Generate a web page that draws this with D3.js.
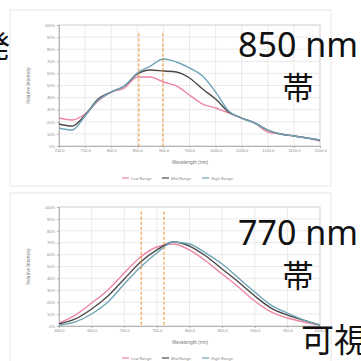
<!DOCTYPE html>
<html>
<head>
<meta charset="utf-8">
<script src="https://cdn.jsdelivr.net/npm/d3@7"></script>
<style>
  body { margin: 0; background: #fff; }
  svg { display: block; font-family: "Noto Sans", "Noto Sans CJK JP", sans-serif; }
  .tick text { fill: #8a8a8a; }
</style>
</head>
<body>
<div id="chart"></div>
<script>
// --- data (percent) ---
var seriesNames = ["Low Range", "Mid Range", "High Range"];
var seriesColors = ["#ec86a4", "#4f4747", "#6fa6b8"];

// 850 nm chart
var topWavelengths = [700,725,750,775,800,825,850,875,900,925,950,975,1000,1025,1050,1075,1100,1125,1150,1175,1200];
var topLow  = [23.1,21.5,26.4,37.2,44.6,47.9,57.0,57.0,52.9,49.6,42.1,34.7,31.4,27.3,23.1,19.0,11.6,9.9,8.3,6.6,4.1];
var topMid  = [18.2,16.5,25.6,38.8,44.6,49.6,59.5,62.8,62.0,61.2,56.2,47.1,38.8,28.1,23.1,19.0,13.2,9.9,8.3,6.6,5.0];
var topHigh = [14.9,13.2,24.8,38.0,44.6,49.6,60.3,66.1,71.9,69.4,64.5,57.9,44.6,28.9,23.1,19.0,13.2,9.9,8.3,6.6,5.0];
var topXTicks = [700,750,800,850,900,950,1000,1050,1100,1150,1200];
var topMarkers = [853, 899];

// 770 nm chart
var botWavelengths = [600,625,650,675,700,725,750,775,800,825,850,875,900,925,950,975,1000];
var botLow  = [2.5,9.2,19.3,30.3,44.5,58.0,66.4,68.9,63.9,54.6,43.7,32.8,21.0,11.8,6.7,3.4,0.8];
var botMid  = [1.7,5.9,14.3,25.2,39.5,53.8,63.9,70.6,67.2,58.8,47.9,37.0,25.2,15.1,9.2,5.0,0.8];
var botHigh = [0.8,3.4,10.1,20.2,35.3,49.6,61.3,70.6,68.9,61.3,52.1,40.3,28.6,17.6,10.9,5.0,0.8];
var botXTicks = [600,650,700,750,800,850,900,950,1000];
var botMarkers = [726, 761];

var yTicks = [0,10,20,30,40,50,60,70,80,90,100];

var svg = d3.select("#chart").append("svg")
  .attr("width", 361)
  .attr("height", 361);

// picture frames behind the two charts
svg.append("rect").attr("x", 10).attr("y", 10).attr("width", 321).attr("height", 176)
  .attr("fill", "#fff").attr("stroke", "#e6e6e6");
svg.append("rect").attr("x", 10).attr("y", 193).attr("width", 321).attr("height", 180)
  .attr("fill", "#fff").attr("stroke", "#e6e6e6");

function drawChart(cfg){
  var x = d3.scaleLinear().domain(cfg.xDomain).range([59, 320]);
  var y = d3.scaleLinear().domain([0, 100]).range([cfg.bottom, cfg.top]);
  var g = svg.append("g");

  // grid
  g.selectAll(".hgrid").data(yTicks).enter().append("line")
    .attr("x1", 59).attr("x2", 320)
    .attr("y1", function(d){ return y(d); }).attr("y2", function(d){ return y(d); })
    .attr("stroke", "#e4e4e4").attr("stroke-width", 0.8);
  g.selectAll(".vgrid").data(cfg.xTicks).enter().append("line")
    .attr("x1", function(d){ return x(d); }).attr("x2", function(d){ return x(d); })
    .attr("y1", cfg.top).attr("y2", cfg.bottom)
    .attr("stroke", "#e4e4e4").attr("stroke-width", 0.8);
  g.append("rect").attr("x", 59).attr("y", cfg.top)
    .attr("width", 261).attr("height", cfg.bottom - cfg.top)
    .attr("fill", "none").attr("stroke", "#d2d2d2").attr("stroke-width", 0.8);

  // axes
  var yAxis = g.append("g").attr("transform", "translate(59,0)")
    .call(d3.axisLeft(y).tickValues(yTicks).tickSize(2).tickFormat(function(d){ return d + "%"; }));
  var xAxis = g.append("g").attr("transform", "translate(0," + cfg.bottom + ")")
    .call(d3.axisBottom(x).tickValues(cfg.xTicks).tickSize(2).tickFormat(function(d){ return d + ".0"; }));
  [yAxis, xAxis].forEach(function(a){
    a.selectAll("path, line").attr("stroke", "#a8a8a8").attr("stroke-width", 0.8);
    a.selectAll("text").style("font-size", "4px");
  });
  yAxis.selectAll("text").attr("x", -4);
  xAxis.selectAll("text").attr("y", 3);

  // axis titles
  g.append("text")
    .attr("transform", "translate(30," + ((cfg.top + cfg.bottom) / 2) + ") rotate(-90)")
    .attr("text-anchor", "middle")
    .style("font-size", "4.5px").style("fill", "#777")
    .text("Relative Intensity");
  g.append("text")
    .attr("x", 190).attr("y", cfg.bottom + 18)
    .attr("text-anchor", "middle")
    .style("font-size", "4.5px").style("fill", "#777")
    .text("Wavelength (nm)");

  // series lines
  var line = d3.line()
    .x(function(d){ return x(d[0]); })
    .y(function(d){ return y(d[1]); })
    .curve(d3.curveMonotoneX);
  cfg.series.forEach(function(vals, i){
    g.append("path")
      .datum(cfg.wavelengths.map(function(w, j){ return [w, vals[j]]; }))
      .attr("fill", "none")
      .attr("stroke", seriesColors[i])
      .attr("stroke-width", 1.4)
      .attr("d", line);
  });

  // band markers
  g.selectAll(".marker").data(cfg.markers).enter().append("line")
    .attr("x1", function(d){ return x(d); }).attr("x2", function(d){ return x(d); })
    .attr("y1", y(cfg.markerTop)).attr("y2", cfg.bottom)
    .attr("stroke", "#f28a26").attr("stroke-width", 1)
    .attr("stroke-dasharray", "3,2");

  // legend
  var lg = g.append("g").attr("transform", "translate(122," + cfg.legendY + ")");
  seriesNames.forEach(function(name, i){
    var item = lg.append("g").attr("transform", "translate(" + (i * 40) + ",0)");
    item.append("line").attr("x1", 0).attr("x2", 7).attr("y1", 0).attr("y2", 0)
      .attr("stroke", seriesColors[i]).attr("stroke-width", 1.2);
    item.append("text").attr("x", 9).attr("y", 1.5)
      .style("font-size", "4px").style("fill", "#888").text(name);
  });

  // big labels
  svg.append("text")
    .attr("x", 238).attr("y", cfg.labelY)
    .style("font-size", "34px").style("fill", "#111")
    .text(cfg.label);
  svg.append("text")
    .attr("x", 298).attr("y", cfg.labelY + 42)
    .attr("text-anchor", "middle")
    .style("font-family", "'Noto Sans CJK JP'")
    .style("font-size", "31px").style("fill", "#111")
    .text("帯");
}

drawChart({
  xDomain: [700, 1200], top: 25, bottom: 146,
  wavelengths: topWavelengths, series: [topLow, topMid, topHigh],
  xTicks: topXTicks, markers: topMarkers, markerTop: 93,
  legendY: 178, label: "850 nm", labelY: 57
});

drawChart({
  xDomain: [600, 1000], top: 207, bottom: 326,
  wavelengths: botWavelengths, series: [botLow, botMid, botHigh],
  xTicks: botXTicks, markers: botMarkers, markerTop: 96,
  legendY: 358, label: "770 nm", labelY: 245
});

// cut-off slide text
svg.append("text")
  .attr("x", 10).attr("y", 57)
  .attr("text-anchor", "end")
  .style("font-family", "'Noto Sans CJK JP'")
  .style("font-size", "30px").style("fill", "#111")
  .text("発");
svg.append("text")
  .attr("x", 301).attr("y", 352)
  .style("font-family", "'Noto Sans CJK JP'")
  .style("font-size", "33px").style("fill", "#111")
  .text("可視");
</script>
</body>
</html>
